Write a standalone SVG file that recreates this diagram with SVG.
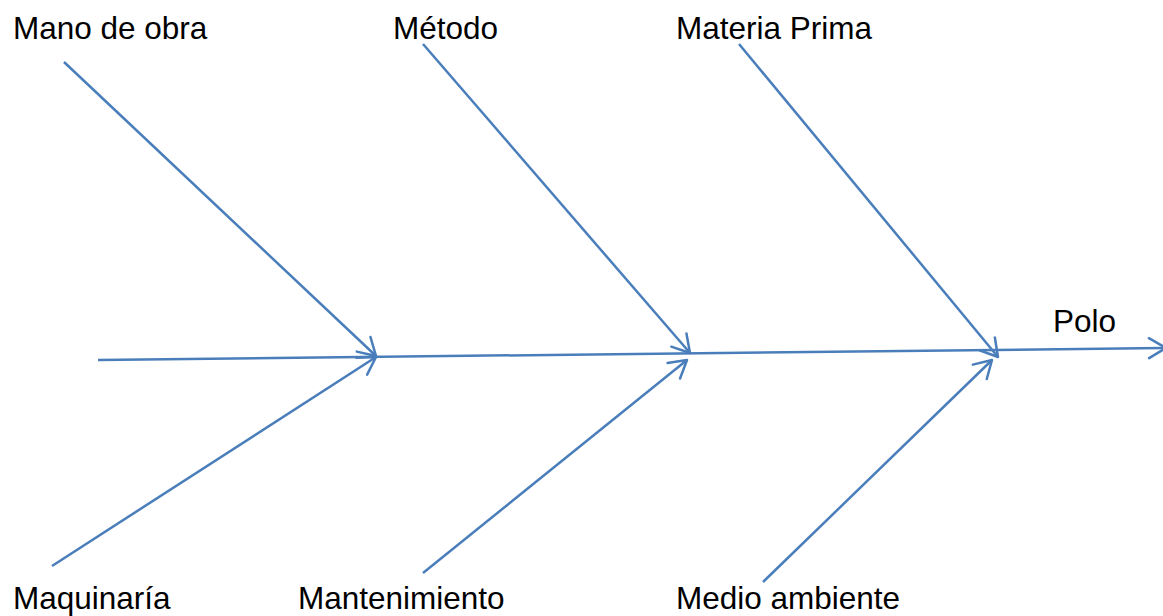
<svg xmlns="http://www.w3.org/2000/svg" width="1163" height="616" viewBox="0 0 1163 616">
<style>
text{font-family:"Liberation Sans",Arial,sans-serif;font-size:31.5px;fill:#000}
.c{stroke:#4a7ebb;stroke-width:2.5;fill:none;marker-end:url(#arr)}
</style>
<defs>
<marker id="arr" markerUnits="userSpaceOnUse" viewBox="-20 -12 22 24" markerWidth="22" markerHeight="24" refX="0" refY="0" orient="auto" overflow="visible">
<path d="M-17,-10 L0,0 L-17,10" fill="none" stroke="#4a7ebb" stroke-width="2.5" stroke-linecap="round" stroke-linejoin="round"/>
</marker>
</defs>
<rect width="1163" height="616" fill="#fff"/>
<g id="connectors">
<line class="c" x1="98" y1="360" x2="1166" y2="348"/>
<line class="c" x1="64" y1="62" x2="376" y2="356"/>
<line class="c" x1="52" y1="566" x2="376" y2="357"/>
<line class="c" x1="423" y1="44" x2="690" y2="353"/>
<line class="c" x1="423" y1="573" x2="687" y2="360"/>
<line class="c" x1="739" y1="44" x2="998" y2="357"/>
<line class="c" x1="763" y1="582" x2="992" y2="360"/>
</g>
<g id="mano"><text x="13" y="39">Mano de obra</text></g>
<g id="metodo"><text x="393" y="39">Método</text></g>
<g id="materia"><text x="676" y="39">Materia Prima</text></g>
<g id="polo"><text x="1053" y="332">Polo</text></g>
<g id="maquinaria"><text x="13" y="609">Maquinaría</text></g>
<g id="mantenimiento"><text x="298" y="609">Mantenimiento</text></g>
<g id="medio"><text x="676" y="609">Medio ambiente</text></g>
</svg>
